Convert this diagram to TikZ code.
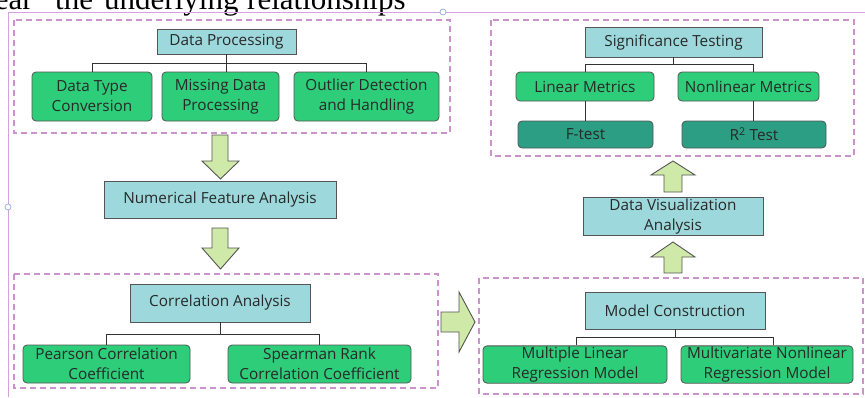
\documentclass[tikz,border=0pt]{standalone}
\usepackage{fontspec}
\setmainfont{Open Sans}
\newfontfamily\serifcut{Liberation Serif}
\usetikzlibrary{calc}
\definecolor{cyanbox}{RGB}{157,217,220}
\definecolor{greenbox}{RGB}{46,205,122}
\definecolor{tealbox}{RGB}{44,158,132}
\definecolor{arrowfill}{RGB}{207,233,168}
\definecolor{dashcol}{RGB}{204,146,204}
\definecolor{framecol}{RGB}{212,160,222}
\definecolor{handlecol}{RGB}{150,170,220}
\definecolor{txt}{RGB}{40,40,40}
\definecolor{edge}{RGB}{85,85,85}
\begin{document}
\begin{tikzpicture}[x=1pt,y=-1pt,
  basebox/.style={draw=edge, line width=0.8pt, text=txt, inner sep=1pt, align=center,
    font=\fontsize{15.3}{20}\selectfont},
  headbox/.style={basebox, fill=cyanbox},
  leafbox/.style={basebox, fill=greenbox, rounded corners=4pt},
  testbox/.style={basebox, fill=tealbox, rounded corners=4pt},
  groupbox/.style={draw=dashcol, line width=1.3pt, dash pattern=on 6pt off 4pt},
  conn/.style={draw=black!80, line width=0.9pt},
  blockarrow/.style={draw=edge, fill=arrowfill, line width=0.9pt, line join=miter}]
\useasboundingbox (0,0) rectangle (865,397);

% cut text at the top
\begin{scope}
\clip (0,0) rectangle (865,397);
\node[anchor=base east, inner sep=0, font=\serifcut\fontsize{31}{31}\selectfont] (t1) at (33,9) {ear};
\node[anchor=base west, inner sep=0, font=\serifcut\fontsize{31}{31}\selectfont] (t2) at (55,9) {the};
\node[anchor=base west, inner sep=0, font=\serifcut\fontsize{31}{31}\selectfont] (t3) at (104,9) {underlying};
\node[anchor=base west, inner sep=0, font=\serifcut\fontsize{31}{31}\selectfont] (t4) at (247,9) {relationships};
\end{scope}

% selection frame
\draw[framecol, line width=1pt] (8,397) -- (8,12) -- (865,12);
\draw[handlecol, fill=white, line width=0.7pt] (8,207) circle (3pt);
\draw[handlecol, fill=white, line width=0.7pt] (443,12) circle (3pt);

% group boxes
\draw[groupbox] (14,20) rectangle (450,133);
\draw[groupbox] (491,20) rectangle (854,156);
\draw[groupbox] (14,274) rectangle (438,388);
\draw[groupbox] (479,278) rectangle (863,394);

% left column
\node[headbox, minimum width=139, minimum height=25] (DP) at (226.5,41.5) {Data Processing};
\node[leafbox, minimum width=120, minimum height=49] (DTC) at (92,96.5) {Data Type\\Conversion};
\node[leafbox, minimum width=117, minimum height=49] (MDP) at (220.5,96.5) {Missing Data\\Processing};
\node[leafbox, minimum width=145, minimum height=49] (ODH) at (366.5,96.5) {Outlier Detection\\and Handling};
\node[headbox, minimum width=232, minimum height=37] (NFA) at (220,199.5) {Numerical Feature Analysis};
\node[headbox, minimum width=180, minimum height=38] (CA) at (220,303) {Correlation Analysis};
\node[leafbox, minimum width=167, minimum height=38] (PCC) at (106.5,364) {Pearson Correlation\\Coefficient};
\node[leafbox, minimum width=183, minimum height=38] (SRC) at (319.5,364) {Spearman Rank\\Correlation Coefficient};

% right column
\node[headbox, minimum width=177, minimum height=30] (ST) at (673.5,42) {Significance Testing};
\node[leafbox, minimum width=138, minimum height=29] (LM) at (585,86.5) {Linear Metrics};
\node[leafbox, minimum width=141, minimum height=29] (NM) at (748.5,86.5) {Nonlinear Metrics};
\node[testbox, minimum width=135, minimum height=27] (FT) at (585.5,134.5) {F-test};
\node[testbox, minimum width=144, minimum height=27] (RT) at (754,134.5) {R\textsuperscript{2} Test};
\node[headbox, minimum width=180, minimum height=37] (DVA) at (673,216.5) {Data Visualization\\Analysis};
\node[headbox, minimum width=180, minimum height=37] (MC) at (675,310.5) {Model Construction};
\node[leafbox, minimum width=184, minimum height=37] (MLR) at (575,364.5) {Multiple Linear\\Regression Model};
\node[leafbox, minimum width=172, minimum height=37] (MNR) at (767,364.5) {Multivariate Nonlinear\\Regression Model};

% tree connectors
\coordinate (j1) at ($(DP.south)+(0,9)$);
\draw[conn] (DP.south) -- (DP.south |- MDP.north);
\draw[conn] (DTC.north) -- (DTC.north |- j1) -- (ODH.north |- j1) -- (ODH.north);

\coordinate (j2) at ($(CA.south)+(0,12)$);
\draw[conn] (CA.south) -- (j2);
\draw[conn] (PCC.north) -- (PCC.north |- j2) -- (SRC.north |- j2) -- (SRC.north);

\coordinate (j3) at ($(ST.south)+(0,7)$);
\coordinate (r3) at ($(RT.north)+(-1,0)$);
\draw[conn] (ST.south) -- (j3);
\draw[conn] (LM.north) -- (LM.north |- j3) -- (r3 |- j3) -- (r3 |- NM.north);
\draw[conn] (LM.south) -- (LM.south |- FT.north);
\draw[conn] (r3 |- NM.south) -- (r3);

\coordinate (j4) at ($(MC.south)+(0,8)$);
\coordinate (m4) at ($(MNR.north)+(6,0)$);
\coordinate (l4) at ($(MLR.north)+(1,0)$);
\draw[conn] (MC.south) -- (j4);
\draw[conn] (l4) -- (l4 |- j4) -- (m4 |- j4) -- (m4);

% block arrows
\draw[blockarrow] (212,135) -- (228,135) -- (228,161) -- (239,161) -- (220.5,179) -- (202,161) -- (212,161) -- cycle;
\draw[blockarrow] (212,228) -- (228,228) -- (228,248) -- (239,248) -- (220.5,269) -- (202,248) -- (212,248) -- cycle;
\draw[blockarrow] (441,312) -- (459,312) -- (459,292) -- (475,322) -- (459,352) -- (459,332) -- (441,332) -- cycle;
\draw[blockarrow] (664,192) -- (664,175) -- (651,175) -- (673,161) -- (695,175) -- (682,175) -- (682,192) -- cycle;
\draw[blockarrow] (664,273) -- (664,257) -- (651,257) -- (673,242) -- (695,257) -- (682,257) -- (682,273) -- cycle;
\end{tikzpicture}
\end{document}
